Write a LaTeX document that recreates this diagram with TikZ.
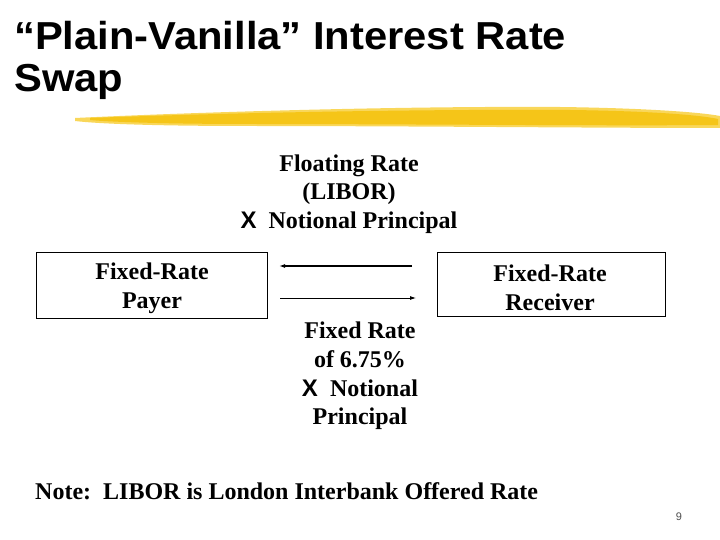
\documentclass[tikz,border=0pt]{standalone}
\usepackage{fontspec}
\usetikzlibrary{arrows.meta}
\setmainfont{Liberation Serif}
\newfontfamily\arialf{Liberation Sans}
\definecolor{brushA}{HTML}{F5C518}
\definecolor{brushB}{HTML}{F9D75A}
\begin{document}
\begin{tikzpicture}[x=1pt,y=-1pt,
  boxstyle/.style={draw, line width=0.8pt, minimum width=231pt, minimum height=66pt, inner sep=0pt},
  bodytext/.style={font=\fontsize{24}{28.7}\selectfont\bfseries, align=center, inner sep=0pt},
  titletext/.style={anchor=base west, inner sep=0pt, font=\arialf\bfseries\fontsize{39}{44}\selectfont},
  arr/.style={-{Latex[length=6pt,width=4pt]}},
]
\useasboundingbox (0,0) rectangle (720,540);
% title
\node[titletext] (t1) at (14,50) {\scalebox{1.07}[1]{“Plain-Vanilla” Interest Rate}};
\node[titletext] (t2) at (14,92) {\scalebox{1.07}[1]{Swap}};
% brush stroke
\fill[brushB] (75,118) .. controls (200,112) and (400,106) .. (560,107) .. controls (640,108) and (700,112) .. (720,116) -- (720,128) .. controls (600,128) and (400,126) .. (250,126) .. controls (160,126) and (100,124) .. (75,121) -- cycle;
\fill[brushA] (90,118) .. controls (220,113) and (420,109) .. (570,110) .. controls (650,111) and (700,115) .. (718,119) -- (718,125) .. controls (600,126) and (400,124) .. (250,124) .. controls (170,124) and (110,122) .. (90,120) -- cycle;
% floating rate label
\node[bodytext, anchor=base] (flt) at (349,228.5) {Floating Rate\\(LIBOR)\\{\arialf X}\ \ Notional Principal};
% boxes
\node[boxstyle] (payer) at (151.5,285) {};
\node[bodytext] (payert) at (152,288) {Fixed-Rate\\Payer};
\node[boxstyle, minimum width=228pt, minimum height=64pt] (recv) at (551,284) {};
\node[bodytext] (recvt) at (550,287.5) {Fixed-Rate\\Receiver};
% arrows
\coordinate (a1s) at (412,266);
\coordinate (a1e) at (279,266);
\coordinate (a2s) at (280,298);
\coordinate (a2e) at (416,298);
\draw[arr, line width=1.6pt] (a1s) -- (a1e);
\draw[arr, line width=0.8pt] (a2s) -- (a2e);
% fixed rate label
\node[bodytext, anchor=north] (fix) at (360,322) {Fixed Rate\\of 6.75\%\\{\arialf X}\ \ Notional\\Principal};
% note
\node[anchor=base west, inner sep=0pt, font=\fontsize{24}{28}\selectfont\bfseries] (note) at (35,499) {Note:\ \ LIBOR is London Interbank Offered Rate};
\node[anchor=base, inner sep=0pt, font=\arialf\fontsize{11}{12}\selectfont, text=black!70] (pg) at (679,520) {9};
\end{tikzpicture}
\end{document}
